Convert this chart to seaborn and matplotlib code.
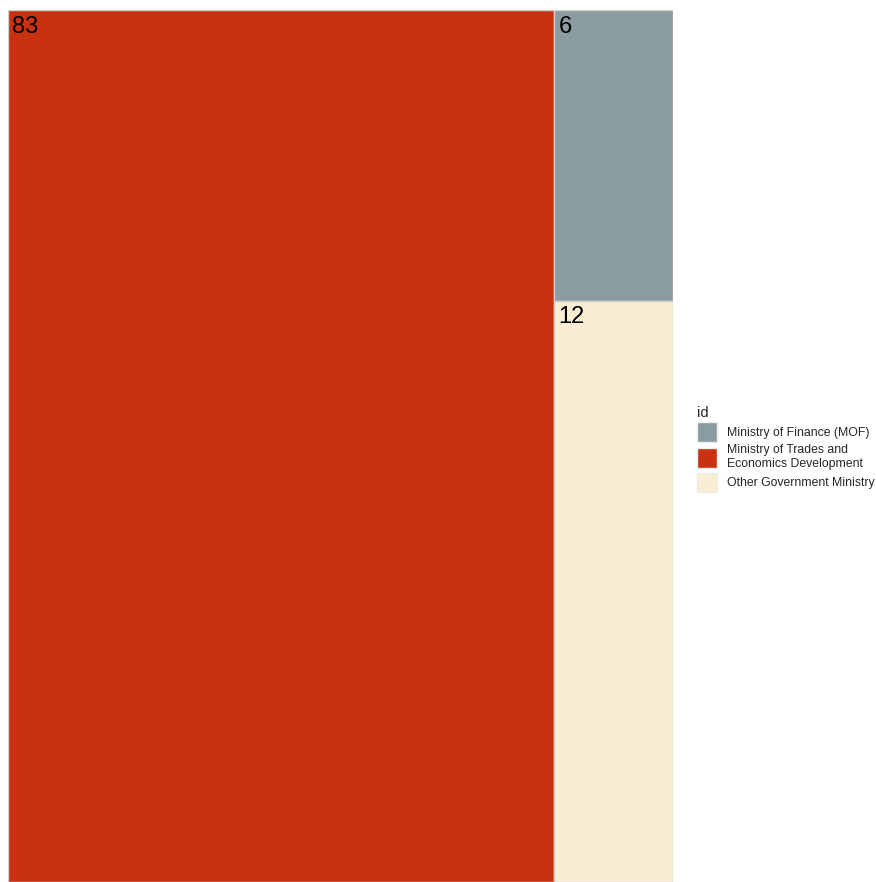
import matplotlib
matplotlib.use("Agg")
import matplotlib.pyplot as plt
from matplotlib.patches import Rectangle, Patch
import seaborn as sns

sns.set_theme(style="white")
plt.rcParams['font.family'] = ['Liberation Sans', 'DejaVu Sans']

# Treemap data
ids = ["Ministry of Trades and\nEconomics Development",
       "Ministry of Finance (MOF)",
       "Other Government Ministry"]
values = [83, 6, 12]
colors = ["#C93211", "#8A9BA1", "#F9EDD3"]
# Columns of the layout: first column holds the largest tile, second the rest
columns = [[0], [1, 2]]
legend_order = [1, 0, 2]

palette = sns.color_palette(colors)

fig = plt.figure(figsize=(8.76, 8.82), dpi=100)
ax = fig.add_axes([8 / 876, 0.0, (673 - 8) / 876, 1 - 10 / 882])
ax.set_xlim(0, 1)
ax.set_ylim(0, 1)
ax.axis("off")

total = sum(values)
x0 = 0.0
for col in columns:
    col_total = sum(values[i] for i in col)
    w = col_total / total
    y_top = 1.0
    for i in col:
        h = values[i] / col_total
        ax.add_patch(Rectangle((x0, y_top - h), w, h, facecolor=palette[i],
                               edgecolor="#CFCFCF", linewidth=1.0))
        ax.annotate(str(values[i]), xy=(x0, y_top), xytext=(3, -4),
                    textcoords="offset points", ha="left", va="top",
                    fontsize=17, color="black")
        y_top -= h
    x0 += w

handles = [Patch(facecolor=palette[i], edgecolor="#EEEEEE", label=ids[i])
           for i in legend_order]
leg = fig.legend(handles=handles, title="id", loc="center left",
                 bbox_to_anchor=(697 / 876, 1 - 449 / 882), frameon=False,
                 fontsize=8.8, title_fontsize=10.5, handlelength=1.65,
                 handleheight=2.1, handletextpad=0.8, labelspacing=0.2,
                 borderaxespad=0, borderpad=0)
leg._legend_box.align = "left"

fig.savefig("out.png", dpi=100)
